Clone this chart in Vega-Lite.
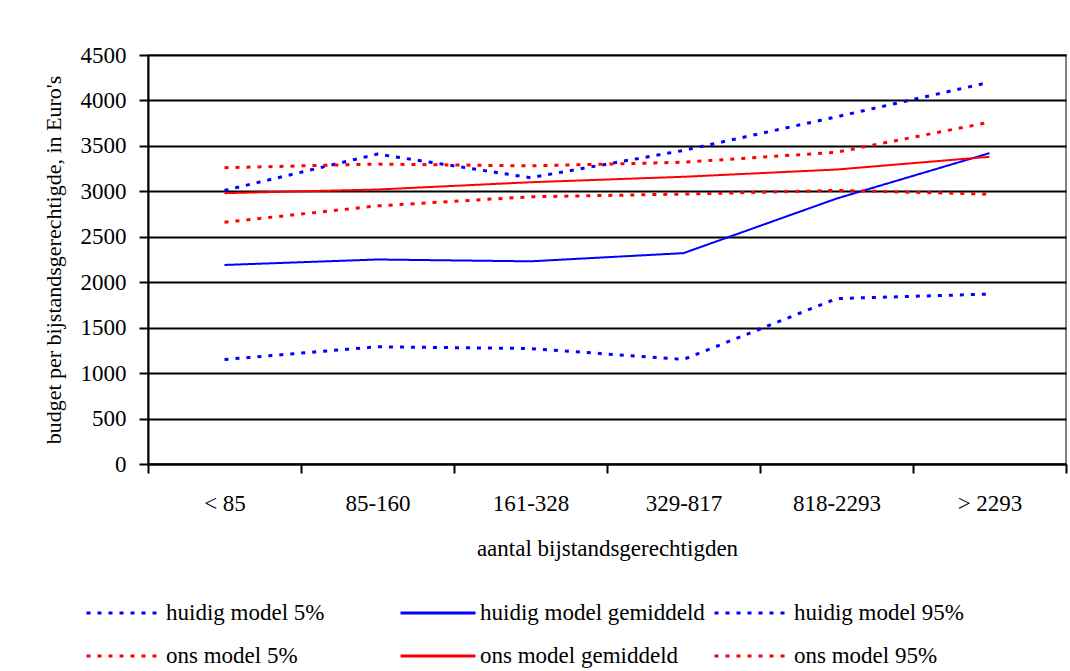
{
  "$schema": "https://vega.github.io/schema/vega-lite/v6.json",
  "autosize": {"type": "none"},
  "width": 918,
  "height": 409,
  "padding": {"left": 148, "top": 55, "right": 4, "bottom": 207},
  "background": "white",
  "config": {
    "font": "Liberation Serif",
    "view": {"stroke": "#808080", "strokeWidth": 2}
  },
  "data": {
    "values": [
      {"cat": "< 85", "series": "huidig model 5%", "value": 1150},
      {"cat": "85-160", "series": "huidig model 5%", "value": 1290},
      {"cat": "161-328", "series": "huidig model 5%", "value": 1270},
      {"cat": "329-817", "series": "huidig model 5%", "value": 1150},
      {"cat": "818-2293", "series": "huidig model 5%", "value": 1820},
      {"cat": "> 2293", "series": "huidig model 5%", "value": 1870},
      {"cat": "< 85", "series": "huidig model gemiddeld", "value": 2190},
      {"cat": "85-160", "series": "huidig model gemiddeld", "value": 2250},
      {"cat": "161-328", "series": "huidig model gemiddeld", "value": 2230},
      {"cat": "329-817", "series": "huidig model gemiddeld", "value": 2320},
      {"cat": "818-2293", "series": "huidig model gemiddeld", "value": 2920},
      {"cat": "> 2293", "series": "huidig model gemiddeld", "value": 3420},
      {"cat": "< 85", "series": "huidig model 95%", "value": 3010},
      {"cat": "85-160", "series": "huidig model 95%", "value": 3410},
      {"cat": "161-328", "series": "huidig model 95%", "value": 3150},
      {"cat": "329-817", "series": "huidig model 95%", "value": 3450},
      {"cat": "818-2293", "series": "huidig model 95%", "value": 3820},
      {"cat": "> 2293", "series": "huidig model 95%", "value": 4200},
      {"cat": "< 85", "series": "ons model 5%", "value": 2660},
      {"cat": "85-160", "series": "ons model 5%", "value": 2840},
      {"cat": "161-328", "series": "ons model 5%", "value": 2940},
      {"cat": "329-817", "series": "ons model 5%", "value": 2970},
      {"cat": "818-2293", "series": "ons model 5%", "value": 3010},
      {"cat": "> 2293", "series": "ons model 5%", "value": 2970},
      {"cat": "< 85", "series": "ons model gemiddeld", "value": 2980},
      {"cat": "85-160", "series": "ons model gemiddeld", "value": 3020},
      {"cat": "161-328", "series": "ons model gemiddeld", "value": 3100},
      {"cat": "329-817", "series": "ons model gemiddeld", "value": 3160},
      {"cat": "818-2293", "series": "ons model gemiddeld", "value": 3240},
      {"cat": "> 2293", "series": "ons model gemiddeld", "value": 3380},
      {"cat": "< 85", "series": "ons model 95%", "value": 3260},
      {"cat": "85-160", "series": "ons model 95%", "value": 3300},
      {"cat": "161-328", "series": "ons model 95%", "value": 3280},
      {"cat": "329-817", "series": "ons model 95%", "value": 3320},
      {"cat": "818-2293", "series": "ons model 95%", "value": 3430},
      {"cat": "> 2293", "series": "ons model 95%", "value": 3760}
    ]
  },
  "encoding": {
    "x": {
      "field": "cat", "type": "nominal",
      "sort": ["< 85", "85-160", "161-328", "329-817", "818-2293", "> 2293"],
      "scale": {"paddingInner": 0, "paddingOuter": 0},
      "axis": {
        "title": "aantal bijstandsgerechtigden",
        "labelAngle": 0, "labelFontSize": 23, "labelColor": "black", "labelPadding": 19,
        "titleFontSize": 23, "titleFontWeight": "normal", "titleColor": "black", "titlePadding": 22,
        "tickBand": "extent", "tickSize": 9, "tickColor": "black", "tickWidth": 2,
        "domainColor": "black", "domainWidth": 2, "grid": false
      }
    },
    "y": {
      "field": "value", "type": "quantitative",
      "scale": {"domain": [0, 4500], "nice": false},
      "axis": {
        "title": "budget per bijstandsgerechtigde, in Euro's",
        "values": [0, 500, 1000, 1500, 2000, 2500, 3000, 3500, 4000, 4500],
        "format": "d",
        "labelFontSize": 23, "labelColor": "black", "labelPadding": 13,
        "titleFontSize": 22, "titleFontWeight": "normal", "titleColor": "black", "titlePadding": 15,
        "tickSize": 9, "tickColor": "black", "tickWidth": 2,
        "domainColor": "black", "domainWidth": 2,
        "grid": true, "gridColor": "black", "gridWidth": 2, "gridOpacity": 1
      }
    },
    "color": {
      "field": "series", "type": "nominal",
      "scale": {
        "domain": ["huidig model 5%", "huidig model gemiddeld", "huidig model 95%", "ons model 5%", "ons model gemiddeld", "ons model 95%"],
        "range": ["#0000FF", "#0000FF", "#0000FF", "#FF0000", "#FF0000", "#FF0000"]
      },
      "legend": {
        "title": null, "orient": "none", "legendX": -38, "legendY": 544, "direction": "horizontal",
        "columns": 3, "gridAlign": "all", "columnPadding": 3, "rowPadding": 17,
        "symbolType": "M-3,0H3", "symbolSize": 625, "symbolStrokeWidth": 3,
        "labelFontSize": 23, "labelColor": "black", "labelOffset": 28, "labelLimit": 400
      }
    },
    "strokeDash": {
      "field": "series", "type": "nominal",
      "scale": {
        "domain": ["huidig model 5%", "huidig model gemiddeld", "huidig model 95%", "ons model 5%", "ons model gemiddeld", "ons model 95%"],
        "range": [[4, 7], [1, 0], [4, 7], [4, 7], [1, 0], [4, 7]]
      },
      "legend": {
        "title": null, "orient": "none", "legendX": -38, "legendY": 544, "direction": "horizontal",
        "columns": 3, "gridAlign": "all", "columnPadding": 3, "rowPadding": 17,
        "symbolType": "M-3,0H3", "symbolSize": 625, "symbolStrokeWidth": 3,
        "labelFontSize": 23, "labelColor": "black", "labelOffset": 28, "labelLimit": 400
      }
    }
  },
  "layer": [
    {
      "transform": [{"filter": "indexof(datum.series, 'gemiddeld') >= 0"}],
      "mark": {"type": "line", "strokeWidth": 2}
    },
    {
      "transform": [{"filter": "indexof(datum.series, 'gemiddeld') < 0"}],
      "mark": {"type": "line", "strokeWidth": 3}
    }
  ]
}
